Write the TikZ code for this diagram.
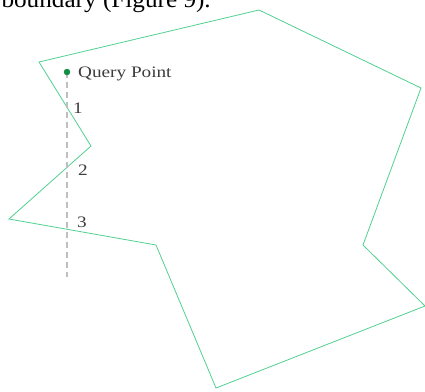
\documentclass[tikz,border=0pt]{standalone}
\usepackage{fontspec}
\setmainfont{Liberation Serif}
\definecolor{edgegreen}{RGB}{80,208,145}
\definecolor{pointgreen}{RGB}{20,140,70}
\definecolor{labelgray}{RGB}{60,60,60}
\tikzset{
  boundary/.style={draw=edgegreen, line width=0.8pt, line join=miter},
  ray/.style={draw=black!25, dash pattern=on 6pt off 4pt, line width=1.3pt},
  crosslabel/.style={text=labelgray, font=\fontsize{16}{16}\selectfont, xscale=1.2, inner sep=0pt, anchor=base west},
}
\begin{document}
\begin{tikzpicture}[x=1pt, y=-1pt]
            \useasboundingbox (0, 0) rectangle (425, 391);
            \clip (0, 0) rectangle (425, 391);

            \path (39, 62) coordinate (V1);
            \path (259, 10) coordinate (V2);
            \path (421, 88) coordinate (V3);
            \path (363, 245) coordinate (V4);
            \path (425, 306) coordinate (V5);
            \path (216, 388) coordinate (V6);
            \path (156, 245) coordinate (V7);
            \path (9, 219) coordinate (V8);
            \path (91, 146) coordinate (V9);

            \path (67, 72) coordinate (query);
            \path (67, 277) coordinate (rayend);

            \node[text=black, font=\fontsize{24}{24}\selectfont, xscale=1.05, inner sep=0pt, anchor=base east] (caption) at (211, 7) {boundary (Figure 9).};

            \draw[boundary] (V1) -- (V2) -- (V3) -- (V4) -- (V5) -- (V6) -- (V7) -- (V8) -- (V9) -- cycle;

            \draw[ray] (query) -- (rayend);
            \filldraw[pointgreen] (query) circle (3pt);

            \node[crosslabel] (qlabel) at (78, 77) {Query Point};
            \node[crosslabel] (cross1) at (73, 113) {1};
            \node[crosslabel] (cross2) at (78, 175) {2};
            \node[crosslabel] (cross3) at (77, 227) {3};
        \end{tikzpicture}
\end{document}
